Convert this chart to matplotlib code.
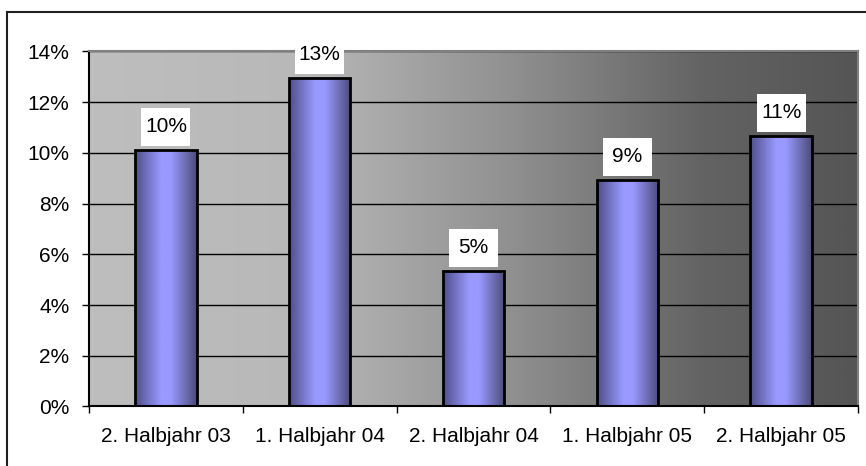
import matplotlib
matplotlib.use('Agg')
import matplotlib.pyplot as plt
import numpy as np
from matplotlib.colors import LinearSegmentedColormap
from matplotlib.patches import Rectangle
from matplotlib.ticker import PercentFormatter, FixedLocator
from matplotlib.transforms import ScaledTranslation

plt.rcParams['font.family'] = ['Liberation Sans', 'DejaVu Sans']

categories = ['2. Halbjahr 03', '1. Halbjahr 04', '2. Halbjahr 04', '1. Halbjahr 05', '2. Halbjahr 05']
values = [0.1012, 0.1296, 0.0535, 0.0894, 0.1067]
yticks = [0, 0.02, 0.04, 0.06, 0.08, 0.10, 0.12, 0.14]

fig = plt.figure(figsize=(8.66, 4.66), dpi=100)
ax = fig.add_axes([0.1028, 0.1277, 0.8880, 0.7618])

# background: light grey on the left fading to dark grey on the right
bg_cmap = LinearSegmentedColormap.from_list(
    'bg', [(0.0, '#bebebe'), (0.28, '#b8b8b8'), (0.55, '#909090'), (0.8, '#636363'), (1.0, '#555555')])
ax.imshow(np.linspace(0, 1, 256).reshape(1, -1), cmap=bg_cmap, aspect='auto',
          extent=(0, 1, 0, 1), transform=ax.transAxes, zorder=-1, interpolation='bilinear')

# cylinder-like shading across each bar
bar_cmap = LinearSegmentedColormap.from_list(
    'bar', [(0.0, '#4f4f88'), (0.42, '#9999ff'), (0.58, '#9999ff'), (1.0, '#4c4c7c')])
shade = np.linspace(0, 1, 128).reshape(1, -1)

x = np.arange(len(categories))
width = 0.4
bars = ax.bar(x, values, width, color='none', edgecolor='black', linewidth=2, zorder=3)
for bar in bars:
    x0 = bar.get_x()
    img = ax.imshow(shade, cmap=bar_cmap, aspect='auto', interpolation='bilinear',
                    extent=(x0, x0 + bar.get_width(), 0, bar.get_height()), zorder=2)
    img.set_clip_path(bar)

# value labels: white box (sized in inches) anchored just above each bar
for bar, v in zip(bars, values):
    xc = bar.get_x() + bar.get_width() / 2
    anchor = fig.dpi_scale_trans + ScaledTranslation(xc, v, ax.transData)
    ax.add_patch(Rectangle((-0.245, 0.04), 0.49, 0.38, transform=anchor,
                           facecolor='white', edgecolor='none', clip_on=False, zorder=4))
    ax.text(0, 0.23, f'{v * 100:.0f}%', transform=anchor, ha='center', va='center',
            fontsize=15, clip_on=False, zorder=5)

ax.set_xlim(-0.5, len(categories) - 0.5)
ax.set_ylim(0, 0.14)

ax.set_yticks(yticks)
ax.yaxis.set_major_formatter(PercentFormatter(1.0, decimals=0))
ax.tick_params(axis='y', direction='out', length=5, width=1, pad=9, labelsize=15)

# tick marks between categories, labels centred under the bars
ax.xaxis.set_major_locator(FixedLocator(np.arange(len(categories) + 1) - 0.5))
ax.xaxis.set_minor_locator(FixedLocator(x))
ax.set_xticklabels([], minor=False)
ax.set_xticklabels(categories, minor=True)
ax.tick_params(axis='x', which='major', direction='out', length=5, width=1)
ax.tick_params(axis='x', which='minor', length=0, pad=15, labelsize=15)

ax.set_axisbelow(True)
ax.yaxis.grid(True, color='black', linewidth=1)

ax.spines['left'].set_color('black')
ax.spines['bottom'].set_color('black')
ax.spines['top'].set_color('#808080')
ax.spines['right'].set_color('#808080')
for s in ax.spines.values():
    s.set_linewidth(1.5)

# outer chart frame
fig.add_artist(Rectangle((7 / 866, -0.1), 1.1, 1.1 - 12 / 466, transform=fig.transFigure,
                         fill=False, edgecolor='#202020', linewidth=1.5))

plt.savefig('out.png', dpi=100)
